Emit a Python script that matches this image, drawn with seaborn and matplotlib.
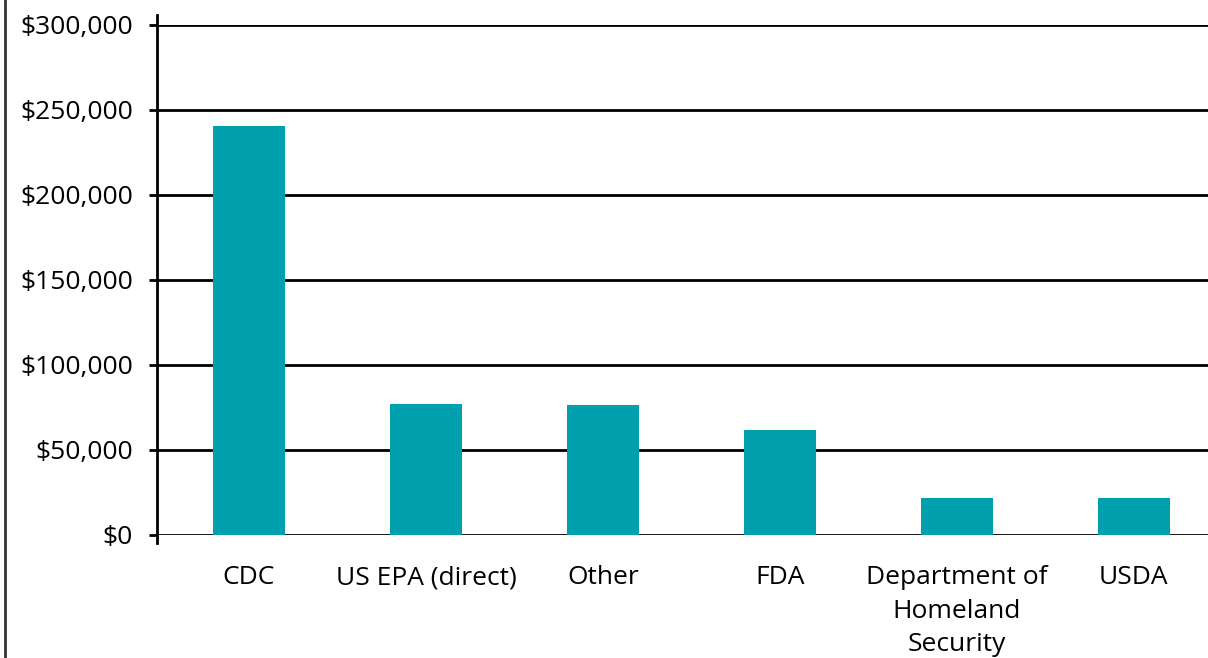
import matplotlib
matplotlib.use("Agg")
import matplotlib.pyplot as plt
import seaborn as sns
import pandas as pd
from matplotlib.lines import Line2D
from matplotlib.ticker import FuncFormatter

categories = ["CDC", "US EPA (direct)", "Other", "FDA",
              "Department of\nHomeland\nSecurity", "USDA"]
values = [240400, 76900, 76300, 61600, 21600, 21600]
yticks = [0, 50000, 100000, 150000, 200000, 250000, 300000]

sns.set_theme(style="white")
plt.rcParams['font.family'] = ['Open Sans', 'DejaVu Sans']

df = pd.DataFrame({"agency": categories, "amount": values})

fig = plt.figure(figsize=(12.08, 6.58), dpi=100)
ax = fig.add_axes([157/1208, (658-534.7)/658, (1208-157)/1208, (534.7-24.7)/658])

sns.barplot(data=df, x="agency", y="amount", color="#00A0AF", saturation=1,
            width=0.407, ax=ax, zorder=3, linewidth=0, edgecolor="none")

ax.set_xlim(-0.52, 5.42)
ax.set_ylim(0, 300000)
ax.set_yticks(yticks)
ax.yaxis.set_major_formatter(FuncFormatter(lambda v, p: f"${int(v):,}"))
ax.grid(axis="y", color="black", linewidth=2, zorder=1)
ax.set_axisbelow(True)
for s in ["top", "right", "bottom"]:
    ax.spines[s].set_visible(False)
ax.spines["left"].set_color("black")
ax.spines["left"].set_linewidth(2)
ax.spines["left"].set_bounds(-4900, 305700)
ax.tick_params(axis="y", left=True, length=5.5, width=2, color="black",
               labelsize=19, pad=12, labelcolor="black")
ax.tick_params(axis="x", bottom=False, labelsize=19, pad=16, labelcolor="black")
for lbl in ax.get_xticklabels():
    lbl.set_linespacing(1.45)
ax.set_xlabel("")
ax.set_ylabel("")

fig.add_artist(Line2D([5/1208, 5/1208], [0, 1], transform=fig.transFigure,
                      color="#333333", linewidth=2))

fig.savefig("out.png", dpi=100)
